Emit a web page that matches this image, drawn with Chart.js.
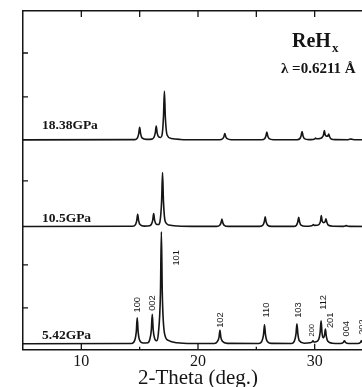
<!DOCTYPE html>
<html>
<head>
<meta charset="utf-8">
<script src="https://cdn.jsdelivr.net/npm/chart.js@4.4.1/dist/chart.umd.min.js"></script>
<style>
  html, body { margin: 0; padding: 0; background: #fff; overflow: hidden; }
</style>
</head>
<body>
<canvas id="xrd" width="380" height="392"></canvas>
<script>
// XRD patterns of ReHx at three pressures, [2-theta (deg), intensity above own baseline]
const pressures = ['5.42GPa', '10.5GPa', '18.38GPa'];
const offsets = [6, 123.3, 210];

const scan542 = [
  [4.5, 0], [14.3, 0.3],
  [14.58, 3.5], [14.71, 12], [14.79, 26], [14.87, 12], [15.0, 3.5], [15.3, 0.8],
  [15.7, 1], [15.87, 4.5], [16.0, 14], [16.08, 29.5], [16.16, 14], [16.29, 5], [16.45, 3],
  [16.6, 10], [16.78, 50], [16.86, 112], [16.94, 50], [17.12, 11], [17.45, 3.5], [18.2, 1], [19.5, 0.3],
  [21.4, 0.3], [21.67, 2.5], [21.8, 6.5], [21.88, 13.5], [21.96, 6.5], [22.09, 2.5], [22.5, 0.4],
  [25.2, 0.3], [25.49, 3], [25.62, 9.5], [25.7, 19], [25.78, 9.5], [25.91, 3], [26.3, 0.4],
  [28.0, 0.3], [28.27, 3], [28.4, 10], [28.48, 20], [28.56, 10], [28.69, 3], [29.1, 0.6],
  [29.6, 1], [29.78, 1.8], [29.85, 3], [29.93, 1.8], [30.1, 2],
  [30.35, 4.5], [30.47, 11.5], [30.55, 23], [30.63, 11], [30.73, 6],
  [30.85, 9], [30.92, 14.7], [31.0, 7.5], [31.13, 2.5], [31.5, 0.6],
  [32.2, 0.3], [32.45, 1.3], [32.55, 3], [32.65, 1.3], [32.9, 0.3],
  [33.7, 0.3], [33.92, 1.3], [34.0, 3], [34.1, 1.3], [34.4, 0.3], [35.5, 0.2]
];

const scan105 = [
  [4.5, 0], [14.4, 0.3],
  [14.64, 2], [14.75, 6], [14.83, 12.4], [14.91, 6], [15.03, 2], [15.4, 0.4],
  [15.85, 0.8], [16.01, 2.5], [16.12, 6.5], [16.2, 13], [16.28, 6.5], [16.41, 2.5], [16.6, 2],
  [16.74, 5], [16.88, 25], [16.96, 54], [17.04, 25], [17.19, 5], [17.5, 1.5], [18.3, 0.5], [19.5, 0.2],
  [21.6, 0.2], [21.86, 1.3], [21.97, 3.7], [22.05, 7.5], [22.13, 3.7], [22.25, 1.3], [22.6, 0.2],
  [25.3, 0.2], [25.57, 1.5], [25.68, 4.8], [25.76, 9.7], [25.84, 4.8], [25.96, 1.5], [26.3, 0.2],
  [28.2, 0.2], [28.44, 1.4], [28.55, 4.6], [28.63, 9.3], [28.71, 4.6], [28.83, 1.4], [29.2, 0.3],
  [29.65, 0.5], [29.82, 1.2], [29.89, 2], [29.97, 1.2], [30.2, 1.3],
  [30.4, 2.5], [30.5, 5.5], [30.57, 11], [30.64, 5.5], [30.76, 4],
  [30.9, 5], [30.97, 7.7], [31.05, 4], [31.18, 1.3], [31.6, 0.3],
  [32.45, 0.2], [32.62, 0.6], [32.7, 1.1], [32.78, 0.6], [33.0, 0.2], [35.5, 0.1]
];

const scan1838 = [
  [4.5, 0], [14.6, 0.3],
  [14.81, 2], [14.92, 6.3], [15.0, 12.7], [15.08, 6.3], [15.2, 2], [15.6, 0.5],
  [16.05, 0.8], [16.23, 2.7], [16.34, 7], [16.42, 14], [16.5, 7], [16.63, 3], [16.8, 2.5],
  [16.92, 5], [17.04, 23], [17.12, 49], [17.2, 23], [17.35, 5], [17.7, 1.5], [18.5, 0.5], [19.8, 0.2],
  [21.85, 0.2], [22.11, 1.2], [22.22, 3.2], [22.3, 6.5], [22.38, 3.2], [22.5, 1.2], [22.85, 0.2],
  [25.45, 0.2], [25.71, 1.2], [25.82, 4], [25.9, 8], [25.98, 4], [26.1, 1.2], [26.45, 0.2],
  [28.5, 0.2], [28.73, 1.3], [28.84, 4.2], [28.92, 8.5], [29.0, 4.2], [29.12, 1.3], [29.5, 0.3],
  [29.85, 0.5], [30.01, 1.1], [30.08, 1.8], [30.16, 1.1], [30.4, 1.3],
  [30.62, 2.3], [30.75, 4.8], [30.83, 9.5], [30.91, 4.8], [31.02, 3.8],
  [31.13, 4], [31.2, 6], [31.28, 3.2], [31.41, 1], [31.8, 0.3],
  [32.85, 0.2], [33.02, 0.6], [33.1, 1], [33.18, 0.6], [33.4, 0.2], [35.5, 0.1]
];

// Miller indices written on the 5.42 GPa pattern (label 2-theta, label foot level)
const hklLabels = ['100', '002', '101', '102', '110', '103', '200', '112', '201', '004', '202'];
const hklTheta  = [14.77, 16.13, 18.13, 21.93, 25.84, 28.63, 29.78, 30.74, 31.34, 32.74, 34.07];
const hklLevel  = [37.3, 39, 84.3, 22, 32.3, 32, 13.3, 40, 21.7, 13.3, 15];

const xTickValues = [10, 15, 20, 25, 30];
const yTickValues = [42, 85, 169, 253, 297];

const ink = '#151515';
const serif = '"Liberation Serif", "Times New Roman", serif';
const sans = '"Liberation Sans", Arial, sans-serif';

const scans = [scan542, scan105, scan1838];

// inward tick marks, sample labels, hkl indices and the ReHx caption
const decorations = {
  id: 'decorations',
  afterDatasetsDraw(chart) {
    const {ctx, chartArea: a, scales: {x, y}} = chart;
    ctx.save();
    ctx.strokeStyle = ink;
    ctx.lineWidth = 1.3;
    ctx.beginPath();
    yTickValues.forEach(v => {
      const py = y.getPixelForValue(v);
      ctx.moveTo(a.left, py);
      ctx.lineTo(a.left + 5, py);
    });
    xTickValues.forEach(v => {
      const px = x.getPixelForValue(v);
      ctx.moveTo(px, a.top);
      ctx.lineTo(px, a.top + 6);
      ctx.moveTo(px, a.bottom);
      ctx.lineTo(px, a.bottom - (v % 10 === 0 ? 6 : 3));
    });
    ctx.stroke();

    ctx.fillStyle = ink;
    ctx.textAlign = 'left';
    ctx.textBaseline = 'alphabetic';
    ctx.font = 'bold 13.5px ' + serif;
    const lift = [5, 5, 10.5];
    pressures.forEach((p, i) => {
      ctx.fillText(p, a.left + 19, y.getPixelForValue(offsets[i]) - lift[i]);
    });

    ctx.textBaseline = 'middle';
    hklLabels.forEach((t, i) => {
      ctx.save();
      ctx.translate(x.getPixelForValue(hklTheta[i]), y.getPixelForValue(hklLevel[i]));
      ctx.rotate(-Math.PI / 2);
      ctx.font = (t === '200' ? 7.5 : 9.3) + 'px ' + sans;
      ctx.fillText(t, 0, 0);
      ctx.restore();
    });

    ctx.textBaseline = 'alphabetic';
    ctx.font = 'bold 20px ' + serif;
    ctx.fillText('ReH', a.left + 269, a.top + 36);
    const w = ctx.measureText('ReH').width;
    ctx.font = 'bold 13px ' + serif;
    ctx.fillText('x', a.left + 270 + w, a.top + 40.5);
    ctx.font = 'bold 15px ' + serif;
    ctx.fillText('\u03bb =0.6211 \u00c5', a.left + 258, a.top + 61.5);
    ctx.restore();
  }
};

new Chart(document.getElementById('xrd'), {
  type: 'scatter',
  data: {
    datasets: scans.map((scan, i) => ({
      label: pressures[i],
      data: scan.map(([t, v]) => ({x: t, y: v + offsets[i]})),
      showLine: true,
      borderColor: ink,
      borderWidth: 1.6,
      pointRadius: 0,
      cubicInterpolationMode: 'monotone'
    }))
  },
  options: {
    responsive: false,
    animation: false,
    events: [],
    layout: { padding: { left: 23, top: 11, right: 7, bottom: 3 } },
    plugins: { legend: { display: false }, tooltip: { enabled: false } },
    scales: {
      x: {
        type: 'linear', position: 'bottom', min: 5, max: 35,
        grid: { display: false, drawTicks: false },
        border: { display: true, color: ink, width: 1.5 },
        ticks: {
          stepSize: 5, autoSkip: false, maxRotation: 0, padding: 3.6, color: ink,
          font: { family: serif, size: 16, lineHeight: 1 },
          callback: v => (v % 10 === 0 && v > 5 && v < 35 ? String(v) : '')
        },
        title: {
          display: true, text: '2-Theta (deg.)', color: ink,
          font: { family: serif, size: 21, lineHeight: 1 },
          padding: { top: -5, bottom: 0 }
        }
      },
      xTop: {
        type: 'linear', position: 'top', min: 5, max: 35,
        grid: { display: false, drawTicks: false },
        border: { display: true, color: ink, width: 1.5 },
        ticks: { display: false }
      },
      y: {
        type: 'linear', min: 0, max: 339,
        grid: { display: false, drawTicks: false },
        border: { display: true, color: ink, width: 1.5 },
        ticks: { display: false }
      }
    }
  },
  plugins: [decorations]
});
</script>
</body>
</html>
